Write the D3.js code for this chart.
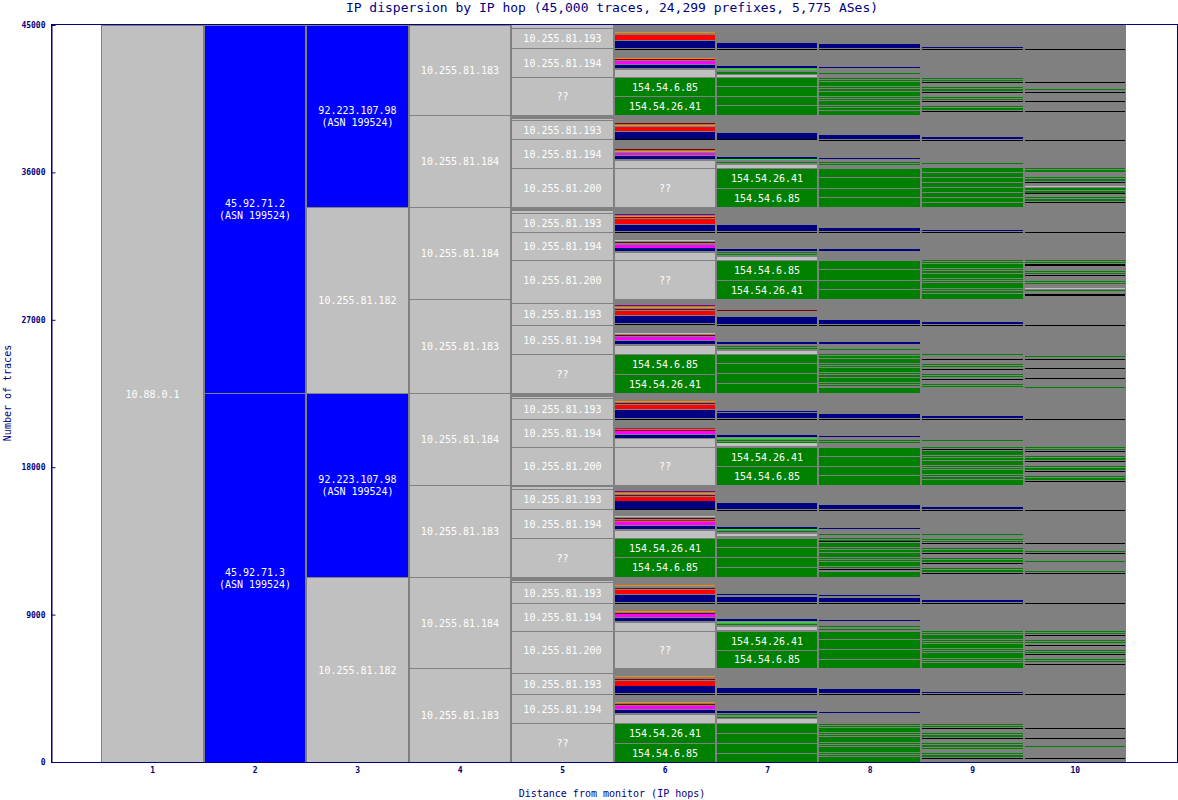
<!DOCTYPE html>
<html><head><meta charset="utf-8">
<script src="https://cdn.jsdelivr.net/npm/d3@7"></script>
<style>body{margin:0;background:#fff}svg{display:block}text{font-family:"DejaVu Sans Mono",monospace}</style>
</head><body><svg id="c" width="1178" height="800"></svg>
<script>
const TOTAL = 45000;
const title = "IP dispersion by IP hop (45,000 traces, 24,299 prefixes, 5,775 ASes)";
const hops = [1,2,3,4,5,6,7,8,9,10];
const yTicks = [0,9000,18000,27000,36000,45000];
const COLORS = {lg:"#c0c0c0", b:"#0000ff", g:"#008000", n:"#000080", r:"#ff0000", o:"#ff8c00", m:"#ff00ff", k:"#000000", dr:"#800000", p:"#800080", lgr:"#00ff00"};

const hop1 = [[45000,"lg","10.88.0.1"]];
const hop2 = [[22470,"b","45.92.71.2\n(ASN 199524)"],[22530,"b","45.92.71.3\n(ASN 199524)"]];
const hop3 = [[11110,"b","92.223.107.98\n(ASN 199524)"],[11360,"lg","10.255.81.182"],[11240,"b","92.223.107.98\n(ASN 199524)"],[11290,"lg","10.255.81.182"]];
const hop4Counts = [5500,5610,5620,5740,5620,5620,5560,5730];
const hop4Labels = ["10.255.81.183","10.255.81.184","10.255.81.184","10.255.81.183","10.255.81.184","10.255.81.183","10.255.81.184","10.255.81.183"];

const hop5 = [
 [[183,"lg"],[1220,"lg","10.255.81.193"],[1769,"lg","10.255.81.194"],[2318,"lg","??"]],
 [[244,"-"],[61,"lg"],[1159,"lg","10.255.81.193"],[1769,"lg","10.255.81.194"],[2379,"lg","10.255.81.200"]],
 [[244,"-"],[122,"lg"],[1159,"lg","10.255.81.193"],[1708,"lg","10.255.81.194"],[2379,"lg","10.255.81.200"]],
 [[244,"lg"],[1342,"lg","10.255.81.193"],[1769,"lg","10.255.81.194"],[2379,"lg","??"]],
 [[244,"-"],[61,"lg"],[1281,"lg","10.255.81.193"],[1708,"lg","10.255.81.194"],[2318,"lg","10.255.81.200"]],
 [[122,"-"],[122,"lg"],[1220,"lg","10.255.81.193"],[1769,"lg","10.255.81.194"],[2379,"lg","??"]],
 [[244,"-"],[61,"lg"],[1281,"lg","10.255.81.193"],[1708,"lg","10.255.81.194"],[2257,"lg","10.255.81.200"]],
 [[305,"lg"],[1281,"lg","10.255.81.193"],[1769,"lg","10.255.81.194"],[2379,"lg","??"]]
];

const hop6 = [
 [[427,"-"],[61,"o"],[122,"-"],[305,"r"],[61,"-"],[427,"n"],[61,"-"],[61,"k"],[488,"-"],[61,"o"],[61,"dr"],[61,"-"],[183,"m"],[61,"-"],[183,"n"],[61,"-"],[488,"lg"],[1159,"g","154.54.6.85"],[1159,"g","154.54.26.41"]],
 [[488,"-"],[61,"dr"],[61,"-"],[61,"o"],[61,"-"],[244,"r"],[61,"-"],[427,"n"],[61,"k"],[549,"-"],[61,"dr"],[61,"-"],[61,"o"],[61,"-"],[122,"m"],[61,"-"],[183,"n"],[61,"-"],[488,"lg"],[2379,"lg","??"]],
 [[427,"-"],[61,"p"],[61,"-"],[61,"o"],[61,"dr"],[61,"-"],[305,"r"],[61,"-"],[366,"n"],[61,"-"],[61,"k"],[427,"-"],[61,"lg"],[61,"-"],[61,"dr"],[122,"-"],[183,"m"],[183,"n"],[61,"-"],[488,"lg"],[2379,"lg","??"]],
 [[366,"-"],[61,"p"],[61,"-"],[61,"o"],[61,"-"],[61,"dr"],[61,"-"],[244,"r"],[61,"-"],[427,"n"],[61,"-"],[61,"k"],[488,"-"],[61,"lg"],[61,"-"],[61,"dr"],[61,"-"],[183,"m"],[61,"-"],[183,"n"],[61,"-"],[549,"lg"],[1220,"g","154.54.6.85"],[1159,"g","154.54.26.41"]],
 [[488,"-"],[61,"o"],[61,"-"],[61,"dr"],[61,"-"],[244,"r"],[61,"-"],[488,"n"],[61,"-"],[61,"k"],[488,"-"],[61,"r"],[61,"-"],[61,"dr"],[183,"m"],[61,"-"],[183,"n"],[549,"lg"],[2318,"lg","??"]],
 [[366,"-"],[61,"p"],[61,"-"],[61,"o"],[61,"-"],[61,"dr"],[61,"-"],[244,"r"],[488,"n"],[61,"k"],[366,"-"],[61,"lg"],[61,"-"],[61,"dr"],[61,"-"],[61,"r"],[61,"-"],[183,"m"],[61,"-"],[183,"n"],[61,"-"],[488,"lg"],[1159,"g","154.54.26.41"],[1220,"g","154.54.6.85"]],
 [[488,"-"],[61,"o"],[122,"-"],[61,"dr"],[61,"-"],[244,"r"],[61,"-"],[427,"n"],[61,"-"],[61,"k"],[427,"-"],[61,"o"],[61,"-"],[61,"dr"],[183,"m"],[61,"-"],[183,"n"],[61,"-"],[549,"lg"],[2257,"lg","??"]],
 [[488,"-"],[61,"o"],[122,"-"],[61,"dr"],[61,"-"],[305,"r"],[427,"n"],[61,"-"],[61,"k"],[427,"-"],[61,"o"],[61,"-"],[61,"dr"],[61,"-"],[183,"m"],[61,"-"],[183,"n"],[61,"-"],[549,"lg"],[1220,"g","154.54.26.41"],[1159,"g","154.54.6.85"]]
];

const hop7 = [
 [[1098,"-"],[305,"n"],[61,"-"],[61,"k"],[976,"-"],[122,"n"],[61,"-"],[61,"lgr"],[122,"-"],[122,"g"],[61,"-"],[122,"lg"],[549,"g"],[610,"g"],[549,"g"],[610,"g"]],
 [[1098,"-"],[366,"n"],[61,"k"],[1037,"-"],[122,"n"],[61,"lgr"],[122,"-"],[61,"g"],[122,"-"],[183,"lg"],[1220,"g","154.54.26.41"],[1159,"g","154.54.6.85"]],
 [[1098,"-"],[366,"n"],[61,"-"],[61,"k"],[976,"-"],[122,"n"],[61,"-"],[61,"g"],[61,"-"],[61,"g"],[122,"-"],[183,"lg"],[1220,"g","154.54.6.85"],[1159,"g","154.54.26.41"]],
 [[671,"-"],[61,"dr"],[366,"-"],[427,"n"],[61,"-"],[61,"k"],[976,"-"],[122,"n"],[122,"-"],[61,"g"],[61,"-"],[61,"g"],[122,"-"],[183,"lg"],[549,"g"],[610,"g"],[610,"g"],[610,"g"]],
 [[1098,"-"],[61,"n"],[61,"-"],[305,"n"],[61,"-"],[61,"k"],[915,"-"],[122,"n"],[61,"-"],[61,"lgr"],[61,"-"],[61,"g"],[61,"-"],[61,"g"],[183,"lg"],[61,"-"],[1159,"g","154.54.26.41"],[1159,"g","154.54.6.85"]],
 [[1098,"-"],[366,"n"],[61,"-"],[61,"k"],[976,"-"],[122,"n"],[61,"lgr"],[61,"-"],[61,"g"],[122,"-"],[122,"lg"],[122,"-"],[549,"g"],[610,"g"],[610,"g"],[610,"g"]],
 [[1037,"-"],[61,"n"],[122,"-"],[305,"n"],[61,"-"],[61,"k"],[915,"-"],[122,"n"],[61,"-"],[61,"lgr"],[61,"-"],[61,"g"],[122,"-"],[183,"lg"],[61,"-"],[1159,"g","154.54.26.41"],[1098,"g","154.54.6.85"]],
 [[1220,"-"],[305,"n"],[61,"-"],[61,"k"],[976,"-"],[122,"n"],[61,"-"],[61,"g"],[122,"-"],[61,"g"],[61,"-"],[244,"lg"],[610,"g"],[610,"g"],[610,"g"],[549,"g"]]
];

const hop8 = [
 [[1159,"-"],[244,"n"],[61,"-"],[61,"k"],[1037,"-"],[61,"n"],[305,"-"],[61,"g"],[183,"-"],
  [61,"-"],[61,"g"],[61,"-"],[61,"g"],[61,"-"],[244,"g"],[61,"-"],[61,"g"],[61,"-"],[122,"g"],[61,"-"],[244,"g"],
  [61,"-"],[61,"g"],[61,"-"],[61,"g"],[61,"-"],[244,"g"],[61,"-"],[61,"g"],[61,"-"],[122,"g"],[61,"-"],[244,"g"]],
 [[1220,"-"],[244,"n"],[61,"-"],[61,"k"],[1037,"-"],[61,"n"],[183,"-"],[61,"g"],[61,"-"],[61,"g"],[183,"-"],[549,"g"],[671,"g"],[549,"g"],[610,"g"]],
 [[1281,"-"],[183,"n"],[61,"-"],[61,"k"],[976,"-"],[122,"n"],[549,"-"],[549,"g"],[671,"g"],[549,"g"],[610,"g"]],
 [[1281,"-"],[244,"n"],[61,"-"],[61,"k"],[976,"-"],[122,"n"],[305,"-"],[61,"g"],[244,"-"],
  [61,"g"],[61,"-"],[122,"g"],[61,"-"],[244,"g"],[61,"-"],[61,"g"],[61,"-"],[61,"g"],[61,"-"],[244,"g"],[61,"-"],
  [61,"g"],[61,"-"],[122,"g"],[61,"-"],[244,"g"],[61,"-"],[61,"g"],[61,"-"],[61,"g"],[61,"-"],[366,"g"]],
 [[1281,"-"],[244,"n"],[61,"-"],[61,"k"],[976,"-"],[61,"n"],[183,"-"],[61,"g"],[61,"-"],[61,"g"],[244,"-"],[549,"g"],[610,"g"],[549,"g"],[610,"g"]],
 [[1220,"-"],[244,"n"],[61,"-"],[61,"k"],[1037,"-"],[61,"n"],[305,"-"],[61,"g"],[183,"-"],
  [61,"g"],[61,"-"],[61,"g"],[61,"k"],[61,"-"],[244,"g"],[61,"-"],[61,"g"],[61,"-"],[122,"g"],[61,"-"],[244,"g"],[61,"-"],
  [61,"g"],[61,"-"],[61,"g"],[61,"-"],[244,"g"],[61,"-"],[61,"g"],[61,"-"],[61,"k"],[61,"-"],[366,"g"]],
 [[1098,"-"],[61,"n"],[122,"-"],[244,"n"],[61,"-"],[61,"k"],[976,"-"],[61,"n"],[305,"-"],[61,"g"],[122,"-"],[61,"g"],[61,"-"],[488,"g"],[610,"g"],[610,"g"],[549,"g"]],
 [[1281,"-"],[244,"n"],[61,"-"],[61,"k"],[1037,"-"],[61,"n"],[610,"-"],
  [61,"-"],[61,"g"],[61,"-"],[61,"g"],[61,"-"],[244,"g"],[61,"-"],[61,"g"],[61,"-"],[61,"g"],[61,"-"],[305,"g"],
  [61,"-"],[61,"g"],[61,"-"],[61,"g"],[61,"-"],[305,"g"],[61,"-"],[61,"g"],[61,"-"],[61,"g"],[61,"-"],[305,"g"]]
];

const hop9 = [
 [[1342,"-"],[61,"n"],[61,"-"],[61,"k"],[1708,"-"],
  [61,"g"],[61,"-"],[61,"g"],[61,"-"],[61,"k"],[244,"-"],[61,"g"],[61,"-"],[122,"g"],[61,"-"],[61,"k"],[244,"-"],
  [61,"g"],[61,"-"],[61,"g"],[61,"-"],[61,"k"],[244,"-"],[61,"g"],[61,"-"],[122,"g"],[61,"-"],[61,"k"],[183,"-"]],
 [[1342,"-"],[122,"n"],[61,"-"],[61,"k"],[1342,"-"],[61,"g"],[244,"-"],[244,"g"],[61,"-"],[244,"g"],[61,"-"],[244,"g"],[61,"-"],[244,"g"],[61,"-"],[244,"g"],[61,"-"],[244,"g"],[61,"-"],[244,"g"],[61,"-"],[244,"g"]],
 [[1403,"-"],[61,"n"],[61,"-"],[61,"k"],[1647,"-"],
  [61,"g"],[61,"-"],[61,"g"],[61,"-"],[244,"g"],[61,"-"],[61,"g"],[61,"-"],[122,"g"],[61,"-"],[244,"g"],[61,"-"],
  [61,"g"],[61,"-"],[61,"g"],[61,"-"],[305,"g"],[61,"-"],[61,"g"],[61,"-"],[122,"g"],[61,"-"],[305,"g"]],
 [[1403,"-"],[122,"n"],[61,"-"],[61,"k"],[1708,"-"],[61,"g"],[244,"-"],[61,"k"],[244,"-"],[61,"g"],[61,"-"],[61,"g"],[122,"-"],[61,"k"],[244,"-"],[61,"g"],[61,"-"],[61,"g"],[122,"-"],[61,"k"],[244,"-"],[61,"g"],[61,"-"],[61,"g"],[366,"-"]],
 [[1403,"-"],[122,"n"],[61,"-"],[61,"k"],[1220,"-"],[61,"g"],[366,"-"],
  [61,"g"],[61,"-"],[61,"k"],[61,"-"],[244,"g"],[61,"-"],[61,"g"],[61,"-"],[122,"g"],[61,"-"],[244,"g"],[61,"-"],
  [61,"g"],[61,"-"],[61,"g"],[61,"-"],[244,"g"],[61,"-"],[61,"g"],[61,"-"],[122,"g"],[61,"-"],[305,"g"]],
 [[1342,"-"],[122,"n"],[61,"-"],[61,"k"],[1403,"-"],[61,"g"],[183,"-"],
  [61,"-"],[61,"g"],[61,"-"],[61,"g"],[61,"-"],[61,"k"],[244,"-"],[61,"g"],[61,"-"],[122,"g"],[61,"-"],[61,"k"],[244,"-"],
  [61,"g"],[61,"-"],[122,"g"],[61,"-"],[61,"k"],[244,"-"],[61,"g"],[61,"-"],[122,"g"],[61,"-"],[61,"k"],[183,"-"]],
 [[1403,"-"],[122,"n"],[61,"-"],[61,"k"],[1647,"-"],
  [61,"g"],[61,"-"],[61,"g"],[61,"-"],[244,"g"],[61,"-"],[61,"g"],[61,"-"],[61,"g"],[61,"-"],[244,"g"],[61,"-"],
  [61,"g"],[61,"-"],[61,"g"],[61,"-"],[305,"g"],[61,"-"],[61,"g"],[61,"-"],[61,"g"],[61,"-"],[305,"g"]],
 [[1464,"-"],[61,"n"],[61,"-"],[61,"k"],[1708,"-"],
  [61,"-"],[61,"g"],[61,"-"],[61,"g"],[61,"-"],[61,"k"],[183,"-"],[61,"-"],[61,"g"],[61,"-"],[122,"g"],[61,"-"],[61,"k"],[183,"-"],
  [61,"-"],[61,"g"],[61,"-"],[122,"g"],[61,"-"],[61,"g"],[183,"-"],[61,"-"],[61,"g"],[61,"-"],[122,"g"],[61,"-"],[61,"k"],[183,"-"]]
];

const hop10 = [
 [[1464,"-"],[61,"k"],[1952,"-"],[61,"k"],[366,"-"],[61,"g"],[122,"-"],[61,"k"],[488,"-"],[61,"k"],[549,"-"],[61,"k"],[183,"-"]],
 [[1525,"-"],[61,"k"],[1647,"-"],[61,"g"],[61,"-"],[122,"g"],[305,"-"],[61,"g"],[61,"-"],[122,"g"],[61,"-"],[61,"k"],[183,"-"],[61,"lg"],[61,"-"],[122,"g"],[61,"-"],[122,"g"],[61,"k"],[183,"-"],[61,"g"],[61,"-"],[122,"g"],[61,"-"],[61,"k"],[244,"-"]],
 [[1525,"-"],[61,"k"],[1647,"-"],[61,"g"],[61,"-"],[61,"g"],[61,"-"],[122,"k"],[305,"-"],[61,"g"],[61,"-"],[61,"g"],[61,"-"],[61,"k"],[305,"-"],[61,"g"],[61,"-"],[61,"g"],[244,"-"],[61,"lg"],[61,"-"],[61,"g"],[183,"-"],[122,"k"],[183,"-"]],
 [[1586,"-"],[61,"k"],[1830,"-"],[61,"g"],[122,"-"],[61,"k"],[488,"-"],[61,"k"],[549,"-"],[61,"k"],[488,"-"],[61,"g"],[305,"-"]],
 [[1586,"-"],[61,"k"],[1647,"-"],
  [61,"g"],[61,"-"],[61,"g"],[61,"-"],[61,"k"],[244,"-"],[61,"g"],[61,"-"],[122,"g"],[61,"-"],[61,"k"],[244,"-"],
  [61,"g"],[61,"-"],[122,"g"],[61,"-"],[61,"k"],[244,"-"],[61,"g"],[61,"-"],[122,"g"],[61,"-"],[61,"k"],[183,"-"]],
 [[1525,"-"],[61,"k"],[1952,"-"],[61,"k"],[427,"-"],[61,"g"],[61,"-"],[61,"k"],[427,"-"],[61,"g"],[549,"-"],[61,"g"],[61,"-"],[61,"k"],[183,"-"]],
 [[1586,"-"],[61,"k"],[1647,"-"],
  [61,"g"],[61,"-"],[61,"g"],[61,"-"],[61,"k"],[244,"-"],[61,"g"],[61,"-"],[61,"g"],[122,"-"],[61,"k"],[244,"-"],
  [61,"g"],[61,"-"],[61,"g"],[61,"-"],[61,"k"],[244,"-"],[61,"g"],[61,"-"],[61,"g"],[122,"-"],[61,"k"],[183,"-"]],
 [[1586,"-"],[61,"k"],[2013,"-"],[61,"k"],[549,"-"],[61,"k"],[427,"-"],[61,"g"],[671,"-"],[61,"k"],[183,"-"]]
];

// ---------- drawing ----------
const svg = d3.select("#c");
const x = d3.scaleLinear().domain([0.5, 10.5]).range([101, 1126]);
const y = d3.scaleLinear().domain([0, TOTAL]).range([762, 25]);

svg.append("rect").attr("x",0).attr("y",0).attr("width",1178).attr("height",800).attr("fill","#fff");
svg.append("rect").attr("x", Math.round(x(0.5))).attr("y", y(TOTAL))
  .attr("width", Math.round(x(10.5)) - Math.round(x(0.5))).attr("height", y(0) - y(TOTAL)).attr("fill", "#808080");

const hop4 = hop4Counts.map((v, i) => [v, "lg", hop4Labels[i]]);
const secStarts = [];
{ let c = TOTAL; hop4Counts.forEach(v => { secStarts.push(c); c -= v; }); }

const columns = [
  {hop:1, sections:[hop1], starts:[TOTAL]},
  {hop:2, sections:[hop2], starts:[TOTAL]},
  {hop:3, sections:[hop3], starts:[TOTAL]},
  {hop:4, sections:[hop4], starts:[TOTAL]},
  {hop:5, sections:hop5, starts:secStarts},
  {hop:6, sections:hop6, starts:secStarts},
  {hop:7, sections:hop7, starts:secStarts},
  {hop:8, sections:hop8, starts:secStarts},
  {hop:9, sections:hop9, starts:secStarts},
  {hop:10, sections:hop10, starts:secStarts}
];

const labelLayer = [];
columns.forEach(col => {
  const g = svg.append("g");
  const x0 = Math.round(x(col.hop - 0.5)), x1 = Math.round(x(col.hop + 0.5));
  col.sections.forEach((sec, i) => {
    let cur = col.starts[i];
    sec.forEach(seg => {
      const [n, c, label] = seg;
      const top = cur; cur -= n;
      if (c === "-") return;
      const y0 = Math.round(y(top)), y1 = Math.round(y(cur));
      const h = Math.max(1, y1 - y0);
      const boxed = !!label || ((c === "g" || c === "lg" || c === "b") && h >= 6);
      if (boxed) {
        g.append("rect").attr("x", x0 + 0.5).attr("y", y0 + 0.5).attr("width", x1 - x0 - 1).attr("height", h)
          .attr("fill", COLORS[c]).attr("stroke", "#808080").attr("stroke-width", 1);
      } else {
        g.append("rect").attr("x", x0 + 1).attr("y", y0).attr("width", x1 - x0 - 2).attr("height", h)
          .attr("fill", COLORS[c]);
      }
      if (label) labelLayer.push({label, cx: (x0 + x1) / 2, cy: (y0 + y1) / 2 + 0.5});
    });
  });
});

const lg = svg.append("g");
labelLayer.forEach(d => {
  const lines = d.label.split("\n");
  const t = lg.append("text").attr("x", d.cx).attr("y", d.cy).attr("text-anchor", "middle")
    .attr("fill", "#ffffff").attr("font-size", "10px");
  lines.forEach((s, i) => {
    t.append("tspan").attr("x", d.cx).attr("dy", i === 0 ? ((-(lines.length - 1) * 6) + 3.5) + "px" : "12px").text(s);
  });
});

// frame
svg.append("rect").attr("x", 51.5).attr("y", 24.5).attr("width", 1126).attr("height", 738)
  .attr("fill", "none").attr("stroke", "#000080").attr("stroke-width", 1);

// axes
const yAxis = d3.axisLeft(y).tickValues(yTicks).tickSizeInner(-4).tickSizeOuter(0).tickPadding(6).tickFormat(d3.format("d"));
const ya = svg.append("g").attr("transform", "translate(51.5,0)").call(yAxis);
ya.select(".domain").attr("stroke", "#000080");
ya.selectAll(".tick line").attr("stroke", "#000080");
ya.selectAll(".tick text").attr("fill", "#000080").attr("font-size", "8px").attr("font-weight", "bold")
  .attr("font-family", "DejaVu Sans Mono");

const xAxis = d3.axisBottom(x).tickValues(hops).tickSize(0).tickPadding(5).tickFormat(d3.format("d"));
const xa = svg.append("g").attr("transform", "translate(0,762)").call(xAxis);
xa.select(".domain").remove();
xa.selectAll(".tick text").attr("fill", "#000080").attr("font-size", "8px").attr("font-weight", "bold")
  .attr("font-family", "DejaVu Sans Mono");

// titles
svg.append("text").attr("x", 612).attr("y", 12).attr("text-anchor", "middle").attr("fill", "#000080")
  .attr("font-size", "13px").text(title);
svg.append("text").attr("transform", "translate(11,393) rotate(-90)").attr("text-anchor", "middle")
  .attr("fill", "#000080").attr("font-size", "10px").text("Number of traces");
svg.append("text").attr("x", 612).attr("y", 797).attr("text-anchor", "middle").attr("fill", "#000080")
  .attr("font-size", "10px").text("Distance from monitor (IP hops)");
</script>
</body></html>
